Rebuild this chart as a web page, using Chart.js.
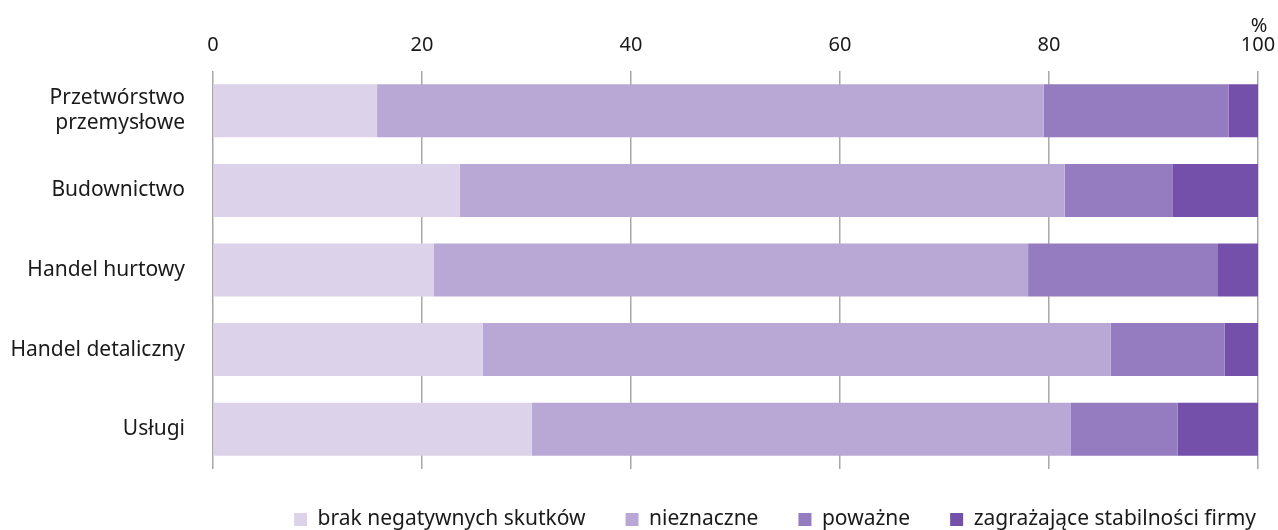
<!DOCTYPE html>
<html><head><meta charset="utf-8">
<script src="https://cdn.jsdelivr.net/npm/chart.js@4.4.1/dist/chart.umd.min.js"></script>
<style>html,body{margin:0;padding:0;background:#fff}#wrap{width:1278px;height:530px}</style>
</head><body><div id="wrap"><canvas id="c" width="1278" height="530"></canvas></div>
<script>
const categories = [["Przetwórstwo","przemysłowe"],"Budownictwo","Handel hurtowy","Handel detaliczny","Usługi"];
const seriesNames = ["brak negatywnych skutków","nieznaczne","poważne","zagrażające stabilności firmy"];
const brak = [15.7, 23.6, 21.1, 25.8, 30.5];
const nieznaczne = [63.8, 57.9, 56.9, 60.1, 51.6];
const powazne = [17.7, 10.3, 18.1, 10.9, 10.2];
const zagrazajace = [2.8, 8.2, 3.9, 3.2, 7.7];
const colors = ["#dcd3ea","#b9a8d5","#957bbf","#7450ab"];
const xTicks = [0,20,40,60,80,100];

const FONT = "'Noto Sans', sans-serif";
const percentPlugin = {
  id:'pct',
  afterLayout(chart){
    if (chart.legend) { chart.legend.left += 18; chart.legend.right += 18; }
  },
  afterDraw(chart){
    const s = chart.scales.x; const ctx = chart.ctx;
    ctx.save(); ctx.fillStyle='#1a1a1a'; ctx.font = "20px "+FONT;
    ctx.textAlign='center'; ctx.textBaseline='middle';
    ctx.fillText('%', s.getPixelForValue(100)+1, 26);
    ctx.restore();
  }
};
new Chart(document.getElementById('c'), {
  type:'bar',
  data:{labels:categories, datasets:[brak,nieznaczne,powazne,zagrazajace].map((d,i)=>({
    label:seriesNames[i], data:d, backgroundColor:colors[i], borderWidth:0,
    barPercentage:0.666, categoryPercentage:1.0
  }))},
  options:{
    indexAxis:'y', responsive:false, animation:false,
    layout:{padding:{left:0,right:0,top:19,bottom:-10}},
    plugins:{
      legend:{position:'bottom', align:'end', labels:{font:{family:FONT,size:21}, color:'#1a1a1a', boxWidth:13, boxHeight:13, padding:40},
        onClick:null},
      tooltip:{enabled:false}
    },
    scales:{
      x:{position:'top', stacked:true, min:0, max:100,
        afterBuildTicks(s){ s.ticks = xTicks.map(v=>({value:v})); },
        afterFit(s){ s.paddingRight = 20; s.paddingLeft = 0; },
        ticks:{font:{family:FONT,size:20}, color:'#1a1a1a', padding:14},
        grid:{color:'#a8a8a8', lineWidth:1.5, drawTicks:false},
        border:{display:false}},
      y:{stacked:true,
        ticks:{font:{family:FONT,size:21}, color:'#1a1a1a', padding:20},
        grid:{display:false}, border:{display:false},
        afterFit(s){ s.width = 213; }}
    }
  },
  plugins:[percentPlugin]
});
</script></body></html>
